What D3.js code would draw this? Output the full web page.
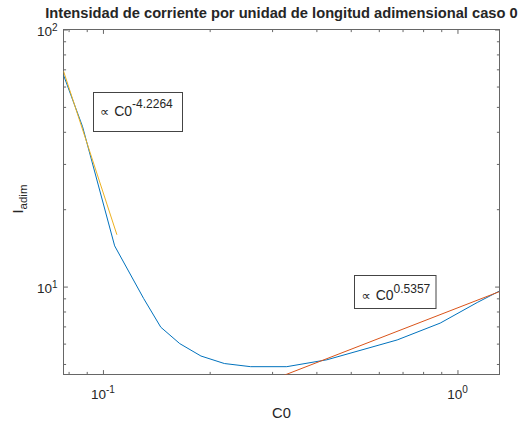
<!DOCTYPE html>
<html>
<head>
<meta charset="utf-8">
<script src="https://cdn.jsdelivr.net/npm/d3@7"></script>
<style>
  body { margin: 0; background: #fff; }
  text { font-family: "Liberation Sans", Arial, Helvetica, sans-serif; fill: #262626; }
</style>
</head>
<body>
<svg id="chart" width="527" height="423"></svg>
<script>
// Dimensionless current per unit length vs C0 (case 0)
const c0    = [0.0774, 0.0876, 0.1079, 0.1303, 0.1456, 0.1647, 0.189, 0.220, 0.261, 0.330, 0.428, 0.676, 0.894, 1.137, 1.314];
const iAdim = [66.5, 41.9, 14.4, 8.98, 6.95, 6.00, 5.37, 5.02, 4.88, 4.88, 5.19, 6.20, 7.21, 8.67, 9.61];

// Power-law fits I = coef * C0^exponent, drawn over their C0 range
const fitExponents = [-4.2264, 0.5357];
const fitCoefs     = [1.386e-3, 8.26];
const fitFrom      = [0.0774, 0.30];
const fitTo        = [0.1095, 1.314];
const fitLabels    = ["-4.2264", "0.5357"];

const xTickMajor = [0.1, 1];
const xTickLabels = ["-1", "0"];
const xTickMinor = [0.08, 0.09, 0.2, 0.3, 0.4, 0.5, 0.6, 0.7, 0.8, 0.9];
const yTickMajor = [10, 100];
const yTickLabels = ["1", "2"];
const yTickMinor = [5, 6, 7, 8, 9, 20, 30, 40, 50, 60, 70, 80, 90];

const xDomain = [0.0774, 1.314];
const yDomain = [4.55, 100];

const W = 527, H = 423;
const L = 63.5, R = 499.5, T = 29.5, B = 374.5;
const axisColor = "#666";
const curveColor = "#0072BD";
const fitColors = ["#EDB120", "#D95319"];

const svg = d3.select("#chart");
const x = d3.scaleLog().domain(xDomain).range([L, R]);
const y = d3.scaleLog().domain(yDomain).range([B, T]);

svg.append("rect").attr("width", W).attr("height", H).attr("fill", "#fff");

svg.append("defs").append("clipPath").attr("id", "plotArea")
  .append("rect").attr("x", L).attr("y", T).attr("width", R - L).attr("height", B - T);

// Axes box with inward ticks on all four sides
function tickAxis(axisFn, scale, values, size, transform) {
  const g = svg.append("g").attr("transform", transform)
    .call(axisFn(scale).tickValues(values).tickSize(-size).tickFormat(""));
  g.selectAll("path").remove();
  g.selectAll("line").attr("stroke", axisColor).attr("stroke-width", 1);
  return g;
}
tickAxis(d3.axisBottom, x, xTickMajor, 4.4, `translate(0,${B})`);
tickAxis(d3.axisBottom, x, xTickMinor, 2.6, `translate(0,${B})`);
tickAxis(d3.axisTop, x, xTickMajor, 4.4, `translate(0,${T})`);
tickAxis(d3.axisTop, x, xTickMinor, 2.6, `translate(0,${T})`);
tickAxis(d3.axisLeft, y, yTickMajor, 4.4, `translate(${L},0)`);
tickAxis(d3.axisLeft, y, yTickMinor, 2.6, `translate(${L},0)`);
tickAxis(d3.axisRight, y, yTickMajor, 4.4, `translate(${R},0)`);
tickAxis(d3.axisRight, y, yTickMinor, 2.6, `translate(${R},0)`);

svg.append("rect").attr("x", L).attr("y", T).attr("width", R - L).attr("height", B - T)
  .attr("fill", "none").attr("stroke", axisColor).attr("stroke-width", 1);

// Tick labels as powers of ten
xTickMajor.forEach((v, i) => {
  const t = svg.append("text").attr("x", x(v)).attr("y", 398.5)
    .attr("text-anchor", "middle").attr("font-size", 13.5);
  t.append("tspan").text("10");
  t.append("tspan").attr("dy", -5.5).attr("font-size", 10).text(xTickLabels[i]);
});
yTickMajor.forEach((v, i) => {
  const t = svg.append("text").attr("x", 57.5).attr("y", y(v) + 6.5)
    .attr("text-anchor", "end").attr("font-size", 13.5);
  t.append("tspan").text("10");
  t.append("tspan").attr("dy", -5.5).attr("font-size", 10).text(yTickLabels[i]);
});

// Axis labels and title
svg.append("text").attr("x", (L + R) / 2).attr("y", 418)
  .attr("text-anchor", "middle").attr("font-size", 14.7).text("C0");

const yl = svg.append("text").attr("transform", "translate(22.7,199) rotate(-90)")
  .attr("text-anchor", "middle").attr("font-size", 14.7);
yl.append("tspan").text("I");
yl.append("tspan").attr("dy", 4.5).attr("font-size", 11.5).text("adim");

svg.append("text").attr("x", (L + R) / 2).attr("y", 18.2)
  .attr("text-anchor", "middle").attr("font-size", 14.7).attr("font-weight", "bold")
  .text("Intensidad de corriente por unidad de longitud adimensional caso 0");

// Data curve and fitted power laws
const plot = svg.append("g").attr("clip-path", "url(#plotArea)");
const line = d3.line().x(d => x(d[0])).y(d => y(d[1]));

plot.append("path").datum(d3.zip(c0, iAdim))
  .attr("d", line).attr("fill", "none")
  .attr("stroke", curveColor).attr("stroke-width", 1);

fitExponents.forEach((p, i) => {
  const pts = [fitFrom[i], fitTo[i]].map(c => [c, fitCoefs[i] * Math.pow(c, p)]);
  plot.append("path").datum(pts)
    .attr("d", line).attr("fill", "none")
    .attr("stroke", fitColors[i]).attr("stroke-width", 1);
});

// Annotation boxes with the fitted exponents
const boxes = [
  { x: 93.5, y: 92.5, w: 89, h: 39, tx: 100, ty: 115.7 },
  { x: 354.5, y: 275.5, w: 81.5, h: 33, tx: 361.5, ty: 300 }
];
boxes.forEach((b, i) => {
  svg.append("rect").attr("x", b.x).attr("y", b.y).attr("width", b.w).attr("height", b.h)
    .attr("fill", "#fff").attr("stroke", "#444").attr("stroke-width", 1);
  const t = svg.append("text").attr("x", b.tx).attr("y", b.ty).attr("font-size", 14);
  t.append("tspan").attr("font-family", "DejaVu Sans").attr("font-size", 13).text("\u221D");
  t.append("tspan").attr("dx", 1).text(" C0");
  t.append("tspan").attr("dy", -7.5).attr("font-size", 12).text(fitLabels[i]);
});
</script>
</body>
</html>
